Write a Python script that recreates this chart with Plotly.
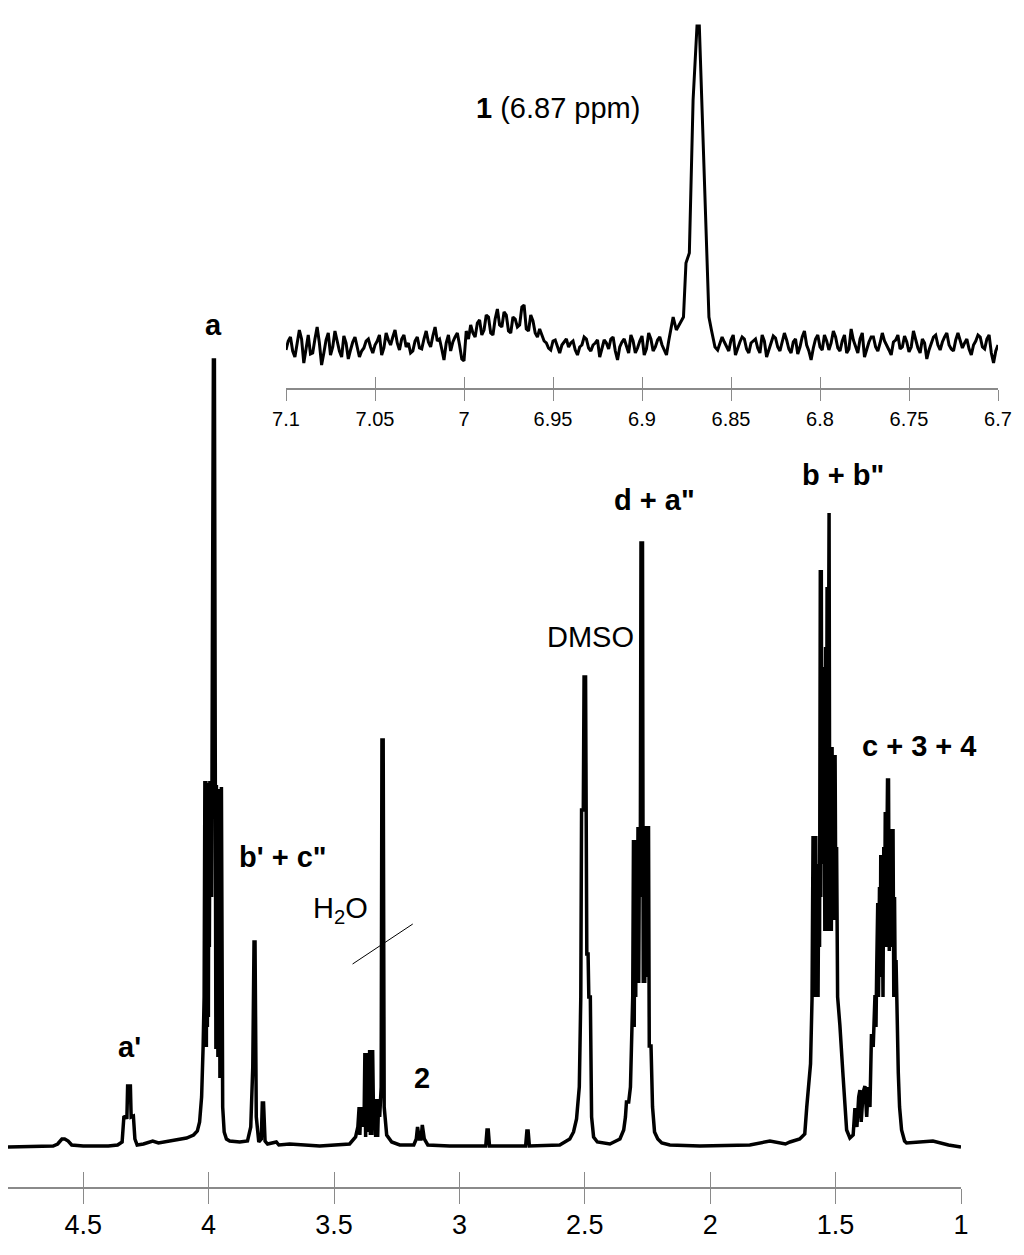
import plotly.graph_objects as go

# main 1H spectrum, (ppm, intensity) vertices
main_trace = [
    (4.80, 0), (4.70, 1), (4.62, 1), (4.602, 3), (4.585, 8), (4.574, 8), (4.560, 6), (4.546, 2),
    (4.50, 1), (4.40, 1), (4.363, 2), (4.345, 5),
    # a'
    (4.338, 30), (4.330, 31), (4.326, 28), (4.323, 61), (4.312, 61), (4.309, 30), (4.300, 31),
    (4.294, 8), (4.285, 2), (4.26, 3), (4.223, 6), (4.20, 4), (4.156, 6), (4.12, 7), (4.088, 9),
    (4.06, 12), (4.045, 16), (4.036, 25), (4.028, 50), (4.022, 100), (4.018, 150),
    # a
    (4.015, 366), (4.013, 110), (4.011, 366), (4.009, 100), (4.007, 364), (4.005, 120),
    (4.003, 360), (4.001, 130), (3.999, 362), (3.997, 200), (3.995, 366), (3.993, 300),
    (3.991, 366), (3.988, 250), (3.985, 500), (3.981, 787), (3.977, 787), (3.975, 300),
    (3.973, 360), (3.971, 98), (3.969, 362), (3.967, 110), (3.965, 358), (3.963, 90),
    (3.961, 358), (3.959, 90), (3.957, 355), (3.955, 69), (3.953, 355), (3.951, 69),
    (3.949, 360), (3.947, 69), (3.944, 40), (3.938, 15), (3.929, 8), (3.916, 6),
    (3.876, 5), (3.845, 6), (3.832, 20), (3.824, 80),
    # b' + c''
    (3.819, 205), (3.815, 205), (3.810, 30), (3.800, 5), (3.790, 8), (3.786, 44), (3.781, 44),
    (3.775, 6), (3.765, 3), (3.730, 5), (3.72, 2), (3.677, 3), (3.557, 1), (3.438, 3),
    # multiplet + H2O
    (3.414, 10), (3.405, 20), (3.400, 40), (3.397, 12), (3.393, 40), (3.388, 20), (3.384, 40),
    (3.380, 30), (3.377, 94), (3.374, 10), (3.371, 94), (3.368, 15), (3.365, 94), (3.362, 15),
    (3.358, 97), (3.355, 12), (3.352, 97), (3.349, 12), (3.346, 97), (3.342, 20), (3.338, 48),
    (3.334, 10), (3.330, 48), (3.326, 10), (3.322, 48), (3.318, 30), (3.312, 60), (3.309, 407),
    (3.304, 407), (3.300, 40), (3.290, 12), (3.270, 5), (3.238, 2), (3.182, 2),
    # 2
    (3.172, 8), (3.167, 20), (3.160, 8), (3.153, 8), (3.148, 22), (3.140, 8), (3.126, 2),
    (3.039, 1), (2.895, 1), (2.890, 17), (2.885, 17), (2.880, 1), (2.736, 1), (2.731, 16),
    (2.726, 16), (2.721, 1), (2.60, 2), (2.56, 8), (2.545, 15), (2.533, 28), (2.522, 60),
    # DMSO
    (2.516, 150), (2.513, 337), (2.506, 337), (2.503, 470), (2.497, 470), (2.492, 193),
    (2.487, 193), (2.484, 150), (2.478, 150), (2.473, 30), (2.465, 10), (2.45, 5), (2.40, 3),
    # d + a''
    (2.36, 8), (2.345, 17), (2.338, 30), (2.334, 45), (2.325, 45), (2.318, 60), (2.313, 100),
    (2.309, 150), (2.306, 307), (2.303, 120), (2.300, 307), (2.297, 150), (2.294, 307),
    (2.291, 164), (2.288, 320), (2.285, 164), (2.282, 320), (2.279, 250), (2.276, 604),
    (2.270, 604), (2.267, 164), (2.264, 321), (2.261, 164), (2.258, 321), (2.255, 170),
    (2.252, 321), (2.249, 170), (2.246, 321), (2.243, 101), (2.236, 101),
    (2.230, 40), (2.222, 15), (2.209, 8), (2.193, 4), (2.161, 2), (2.041, 1), (1.842, 2),
    (1.762, 6), (1.70, 3), (1.682, 5), (1.643, 8), (1.623, 13), (1.615, 40),
    # b + b''
    (1.600, 83), (1.594, 148), (1.590, 311), (1.587, 150), (1.584, 311), (1.581, 160),
    (1.579, 311), (1.576, 150), (1.573, 283), (1.570, 150), (1.567, 283), (1.564, 200),
    (1.561, 577), (1.559, 250), (1.557, 577), (1.555, 283), (1.552, 450), (1.549, 283),
    (1.546, 480), (1.543, 216), (1.540, 500), (1.537, 216), (1.534, 560), (1.531, 300),
    (1.529, 634), (1.526, 634), (1.523, 216), (1.520, 400), (1.517, 216), (1.514, 400),
    (1.511, 227), (1.508, 392), (1.505, 227), (1.502, 392), (1.499, 227), (1.496, 300),
    (1.492, 150), (1.483, 122), (1.470, 70),
    (1.460, 25), (1.456, 17), (1.443, 9), (1.430, 12), (1.423, 39), (1.415, 20), (1.408, 50),
    (1.403, 57), (1.398, 25), (1.390, 55), (1.383, 61), (1.376, 30), (1.370, 60), (1.363, 40),
    # c + 3 + 4
    (1.357, 113), (1.350, 100), (1.343, 152), (1.339, 120), (1.336, 180), (1.332, 244),
    (1.329, 150), (1.325, 260), (1.322, 170), (1.320, 292), (1.317, 200), (1.314, 261),
    (1.311, 150), (1.308, 300), (1.305, 200), (1.302, 335), (1.299, 200), (1.296, 300),
    (1.293, 367), (1.289, 367), (1.286, 196), (1.283, 318), (1.280, 200), (1.277, 318),
    (1.274, 200), (1.271, 318), (1.268, 150), (1.265, 250), (1.262, 150), (1.259, 187),
    (1.255, 120), (1.250, 74), (1.245, 40),
    (1.237, 17), (1.225, 6), (1.217, 4), (1.112, 6), (1.05, 2), (1.00, 0),
]

# inset (7.1 - 6.7 ppm): noise sampled every 0.00125 ppm, plus the peak 1
inset_step = 0.00125
noise_left_start = 7.1
noise_left = [
    -5, 4, 8, -6, -12, 3, 15, 6, -18, -4, 10, -9, -8, 6, 18, 2, -20, -8, 5, 12,
    -10, -2, 14, 4, -6, -12, 9, 2, -14, -5, 3, 8, -4,
    -12, -6, -3, 4, 6, -2, -8, 0, 4, 10, -10, -3, 12, 5, 0, 8, 15, 2, -5, 6,
    10, -2, 2, -8, -6, 4, 8, -3, -4, 6, 14, 3, -2, 9, 18, 4, 6, -4, -15, 2,
    10, -6, 3, 8, 12, 0, -14, -16,
    14, 6, 20, 12, 8, 22, 25, 10, 15, 30, 28, 12, 10, 26, 36, 20, 18, 33, 30, 14,
    12, 28, 26, 18, 20, 38, 40, 16, 14, 30, 24, 12, 8, 16, 10, 4,
    2, -3, -5, 4, 5, -2, -8, 0, 3, 6, -2, 2, 4, -5, -10, -2, 0, 8, 6, -3,
    -6, 0, 2, 5, -12, -4, 5, 2, -4, 6, 8, -6, -15, -2, 3, 6, -2, -8, 10, 4,
    -8, -3, 4, 9, -10, -4, 12, 6, -6, -2, 5, 8, 0, -5, -10, 4, 15, 28,
]
peak1 = [
    (6.8807, 15), (6.8767, 28), (6.8753, 82), (6.8734, 92), (6.8713, 245), (6.8691, 319),
    (6.8678, 319), (6.8659, 212), (6.8637, 78), (6.8624, 28), (6.8610, 15), (6.8590, -2),
]
noise_right_start = 6.8575
noise_right = [
    -5, 2, 8, 3, -2, -6, 5, 10, -10, -3, 3, 8, 6, -4, -8, 2, 4, 6, -3, -8,
    10, 4, -12, -5, 2, 9, 7, -2, -6, 4, 12, 5, -4, -8, 3, 6, -9, -2, 8, 14,
    0, -6, -15, -3, 6, 10, -2, -5, 10, 4, -5, 2, 14, 8, -3, -6, 4, 10, -8, -4,
    16, 5, -2, -8, 6, 12, -12, -4, 3, 8, 8, -2, -6, 2, 12, 4, 0, -5, -10, 3,
    5, 10, -4, -2, 9, 3, -7, -2, 14, 6, -3, -8, 6, 2, -14, -5, 2, 8, 10, 0,
    -5, 3, 8, 12, 0, -4, -6, 5, 12, 4, -3, 2, 6, -4, -10, 0, 4, 10, 8, -2,
    -4, 6, 10, -8, -18, -6, 0,
]

main_ticks = [4.5, 4, 3.5, 3, 2.5, 2, 1.5, 1]
main_ticktext = ['4.5', '4', '3.5', '3', '2.5', '2', '1.5', '1']
inset_ticks = [7.1, 7.05, 7.0, 6.95, 6.9, 6.85, 6.8, 6.75, 6.7]
inset_ticktext = ['7.1', '7.05', '7', '6.95', '6.9', '6.85', '6.8', '6.75', '6.7']

# peak labels: (text, ppm, intensity)
main_labels = [
    ('<b>a</b>', 3.980, 822),
    ("<b>a'</b>", 4.315, 100),
    ('<b>b\' + c"</b>', 3.705, 290),
    ('H<sub>2</sub>O', 3.473, 237),
    ('<b>2</b>', 3.150, 69),
    ('DMSO', 2.476, 510),
    ('<b>d + a"</b>', 2.221, 647),
    ('<b>b + b"</b>', 1.471, 672),
    ('<b>c + 3 + 4</b>', 1.164, 401),
]

W, H = 1024, 1255
OFF = 8  # page margin around the plot div
FONT = 'Liberation Sans, Arial, sans-serif'
AXIS_GREY = '#8a8a8a'

main_x = [p for p, _ in main_trace]
main_y = [v for _, v in main_trace]

inset_x = [noise_left_start - i * inset_step for i in range(len(noise_left))]
inset_y = list(noise_left)
inset_x += [p for p, _ in peak1]
inset_y += [v for _, v in peak1]
inset_x += [noise_right_start - i * inset_step for i in range(len(noise_right))]
inset_y += list(noise_right)

fig = go.Figure()
fig.add_trace(go.Scatter(x=main_x, y=main_y, mode='lines', line=dict(color='black', width=3.5),
                         xaxis='x', yaxis='y', hoverinfo='skip'))
fig.add_trace(go.Scatter(x=inset_x, y=inset_y, mode='lines', line=dict(color='black', width=3),
                         xaxis='x2', yaxis='y2', hoverinfo='skip'))
# empty traces so the overlay axes (upper half of the crossing ticks) get drawn
fig.add_trace(go.Scatter(x=[None], y=[None], xaxis='x3', yaxis='y', hoverinfo='skip'))
fig.add_trace(go.Scatter(x=[None], y=[None], xaxis='x4', yaxis='y2', hoverinfo='skip'))

main_dom = [(8 - OFF) / W, (961 - OFF) / W]
inset_dom = [(286 - OFF) / W, (998 - OFF) / W]
main_range = [4.80, 1.0]
inset_range = [7.1, 6.7]

common_x = dict(showgrid=False, zeroline=False, tickmode='array', tickcolor=AXIS_GREY, tickwidth=1,
                automargin=False)

fig.update_layout(
    width=W, height=H, margin=dict(l=0, r=0, t=0, b=0, pad=0),
    paper_bgcolor='white', plot_bgcolor='rgba(0,0,0,0)', showlegend=False,
    xaxis=dict(domain=main_dom, range=main_range, anchor='y', tickvals=main_ticks,
               ticktext=main_ticktext, ticks='outside', ticklen=15, showline=True,
               linecolor=AXIS_GREY, linewidth=1.5, ticklabelstandoff=-2,
               tickfont=dict(family='Liberation Sans Narrow, ' + FONT, size=27, color='black'),
               **common_x),
    xaxis3=dict(domain=main_dom, range=main_range, anchor='y', overlaying='x', tickvals=main_ticks,
                ticks='inside', ticklen=15, showticklabels=False, showline=False, **common_x),
    yaxis=dict(domain=[1 - (1187 - OFF) / H, 1], range=[-40, 1147 - OFF], visible=False,
               automargin=False),
    xaxis2=dict(domain=inset_dom, range=inset_range, anchor='y2', tickvals=inset_ticks,
                ticktext=inset_ticktext, ticks='outside', ticklen=11, showline=True,
                linecolor=AXIS_GREY, linewidth=1.5, ticklabelstandoff=1,
                tickfont=dict(family=FONT, size=20, color='black'), **common_x),
    xaxis4=dict(domain=inset_dom, range=inset_range, anchor='y2', overlaying='x2',
                tickvals=inset_ticks, ticks='inside', ticklen=11, showticklabels=False,
                showline=False, **common_x),
    yaxis2=dict(domain=[1 - (388 - OFF) / H, 1], range=[-43, 345 - OFF], visible=False,
                automargin=False),
)

for text, ppm, val in main_labels:
    fig.add_annotation(x=ppm, y=val, xref='x', yref='y', text=text, showarrow=False,
                       font=dict(family=FONT, size=29, color='black'))

fig.add_annotation(x=6.947, y=237, xref='x2', yref='y2', text='<b>1</b> (6.87 ppm)',
                   showarrow=False, font=dict(family=FONT, size=29, color='black'))

# leader line of the water label
fig.add_shape(type='line', xref='x', yref='y', x0=3.426, y0=183, x1=3.186, y1=223,
              line=dict(color='black', width=1))

fig.write_html('out.html')
